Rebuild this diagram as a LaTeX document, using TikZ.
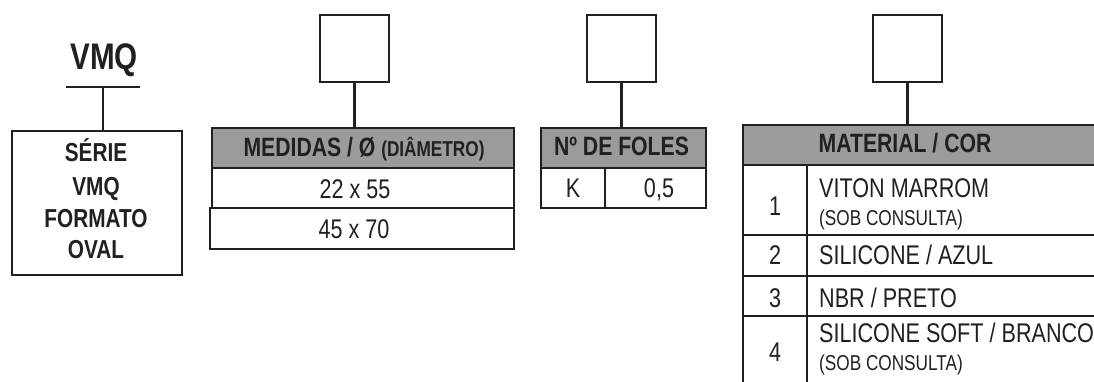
\documentclass[tikz,border=0pt]{standalone}
\usepackage{fontspec}
\setmainfont{Liberation Sans}[FakeStretch=0.80]
\definecolor{ink}{HTML}{231F20}
\definecolor{hdr}{HTML}{9B9B9B}
\tikzset{
  lw/.style={line width=2.8pt, draw=ink},
  cellbox/.style={lw, rectangle, inner sep=0pt},
  bodytxt/.style={text=ink, inner sep=0pt, anchor=base, font=\fontsize{27}{30}\selectfont},
  smalltxt/.style={text=ink, inner sep=0pt, anchor=base west, font=\fontsize{21.5}{24}\selectfont},
  boldtxt/.style={text=ink, inner sep=0pt, anchor=base, font=\bfseries\fontsize{26.5}{30}\selectfont},
  seriebold/.style={text=ink, inner sep=0pt, anchor=base, font=\bfseries\fontsize{26}{30}\selectfont},
  codebox/.style={line width=2.5pt, draw=ink, rectangle, minimum width=69pt, minimum height=67pt, inner sep=0pt},
}
\begin{document}
\begin{tikzpicture}[x=1pt,y=-1pt]
\useasboundingbox (0,0) rectangle (1094,382);
\clip (0,0) rectangle (1094,382);
\fill[white] (0,0) rectangle (1094,382);

% ---- Serie ----
\node[text=ink, inner sep=0pt, anchor=base, font=\bfseries\fontsize{37}{42}\selectfont] (vmq) at (104,70) {VMQ};
\coordinate (barL) at (66,87);
\coordinate (barR) at (140,87);
\coordinate (barM) at (103,87);
\draw[lw] (barL) -- (barR);
\node[cellbox, minimum width=170pt, minimum height=144pt] (serie) at (97,203) {};
\draw[lw] (barM) -- (barM |- serie.north);
\node[seriebold] (s1) at (96,162) {SÉRIE};
\node[seriebold] (s2) at (96,195) {VMQ};
\node[seriebold] (s3) at (96,227) {FORMATO};
\node[seriebold] (s4) at (96,258) {OVAL};

% ---- Medidas ----
\node[codebox] (b1) at (354.5,48.5) {};
\node[cellbox, fill=hdr, minimum width=302pt, minimum height=40pt] (mh) at (363,148) {};
\node[boldtxt] (mht) at (364,157) {MEDIDAS / Ø {\fontsize{21.5}{24}\selectfont (DIÂMETRO)}};
\draw[lw] (b1.south) -- (b1.south |- mh.north);
\node[cellbox, minimum width=302pt, minimum height=40pt] (m1) at (363,188) {};
\node[cellbox, minimum width=304pt, minimum height=41pt] (m2) at (362,228.5) {};
\node[bodytxt] (m1t) at (355,198) {22 x 55};
\node[bodytxt] (m2t) at (354,238) {45 x 70};

% ---- Foles ----
\node[codebox] (b2) at (621.5,48.5) {};
\node[cellbox, fill=hdr, minimum width=165pt, minimum height=40pt] (fh) at (623.5,148) {};
\node[boldtxt] (fht) at (621.5,156) {Nº DE FOLES};
\draw[lw] (b2.south) -- (b2.south |- fh.north);
\node[cellbox, minimum width=64pt, minimum height=40pt] (fk) at (573,188) {};
\node[cellbox, minimum width=101pt, minimum height=40pt] (fv) at (655.5,188) {};
\node[bodytxt] (fkt) at (573,197) {K};
\node[bodytxt] (fvt) at (659,197) {0,5};

% ---- Material ----
\node[codebox] (b3) at (907.5,48.5) {};
\node[cellbox, fill=hdr, minimum width=380pt, minimum height=40pt] (ch) at (933,145) {};
\node[boldtxt] (cht) at (905,153) {MATERIAL / COR};
\draw[lw] (b3.south) -- (b3.south |- ch.north);
% rows
\node[cellbox, minimum width=64pt, minimum height=70pt] (n1) at (775,200) {};
\node[cellbox, minimum width=316pt, minimum height=70pt] (r1) at (965,200) {};
\node[cellbox, minimum width=64pt, minimum height=41pt] (n2) at (775,255.5) {};
\node[cellbox, minimum width=316pt, minimum height=41pt] (r2) at (965,255.5) {};
\node[cellbox, minimum width=64pt, minimum height=40pt] (n3) at (775,296) {};
\node[cellbox, minimum width=316pt, minimum height=40pt] (r3) at (965,296) {};
\node[cellbox, minimum width=64pt, minimum height=90pt] (n4) at (775,361) {};
\node[cellbox, minimum width=316pt, minimum height=90pt] (r4) at (965,361) {};

\node[bodytxt] (t1) at (775,215) {1};
\node[bodytxt, anchor=base west] (t1a) at (819,197) {VITON MARROM};
\node[smalltxt] (t1b) at (819,225) {(SOB CONSULTA)};
\node[bodytxt] (t2) at (775,264) {2};
\node[bodytxt, anchor=base west] (t2a) at (819,264) {SILICONE / AZUL};
\node[bodytxt] (t3) at (775,307) {3};
\node[bodytxt, anchor=base west] (t3a) at (819,307) {NBR / PRETO};
\node[bodytxt] (t4) at (775,361) {4};
\node[bodytxt, anchor=base west] (t4a) at (819,342) {SILICONE SOFT / BRANCO};
\node[smalltxt] (t4b) at (819,370) {(SOB CONSULTA)};
\end{tikzpicture}
\end{document}
